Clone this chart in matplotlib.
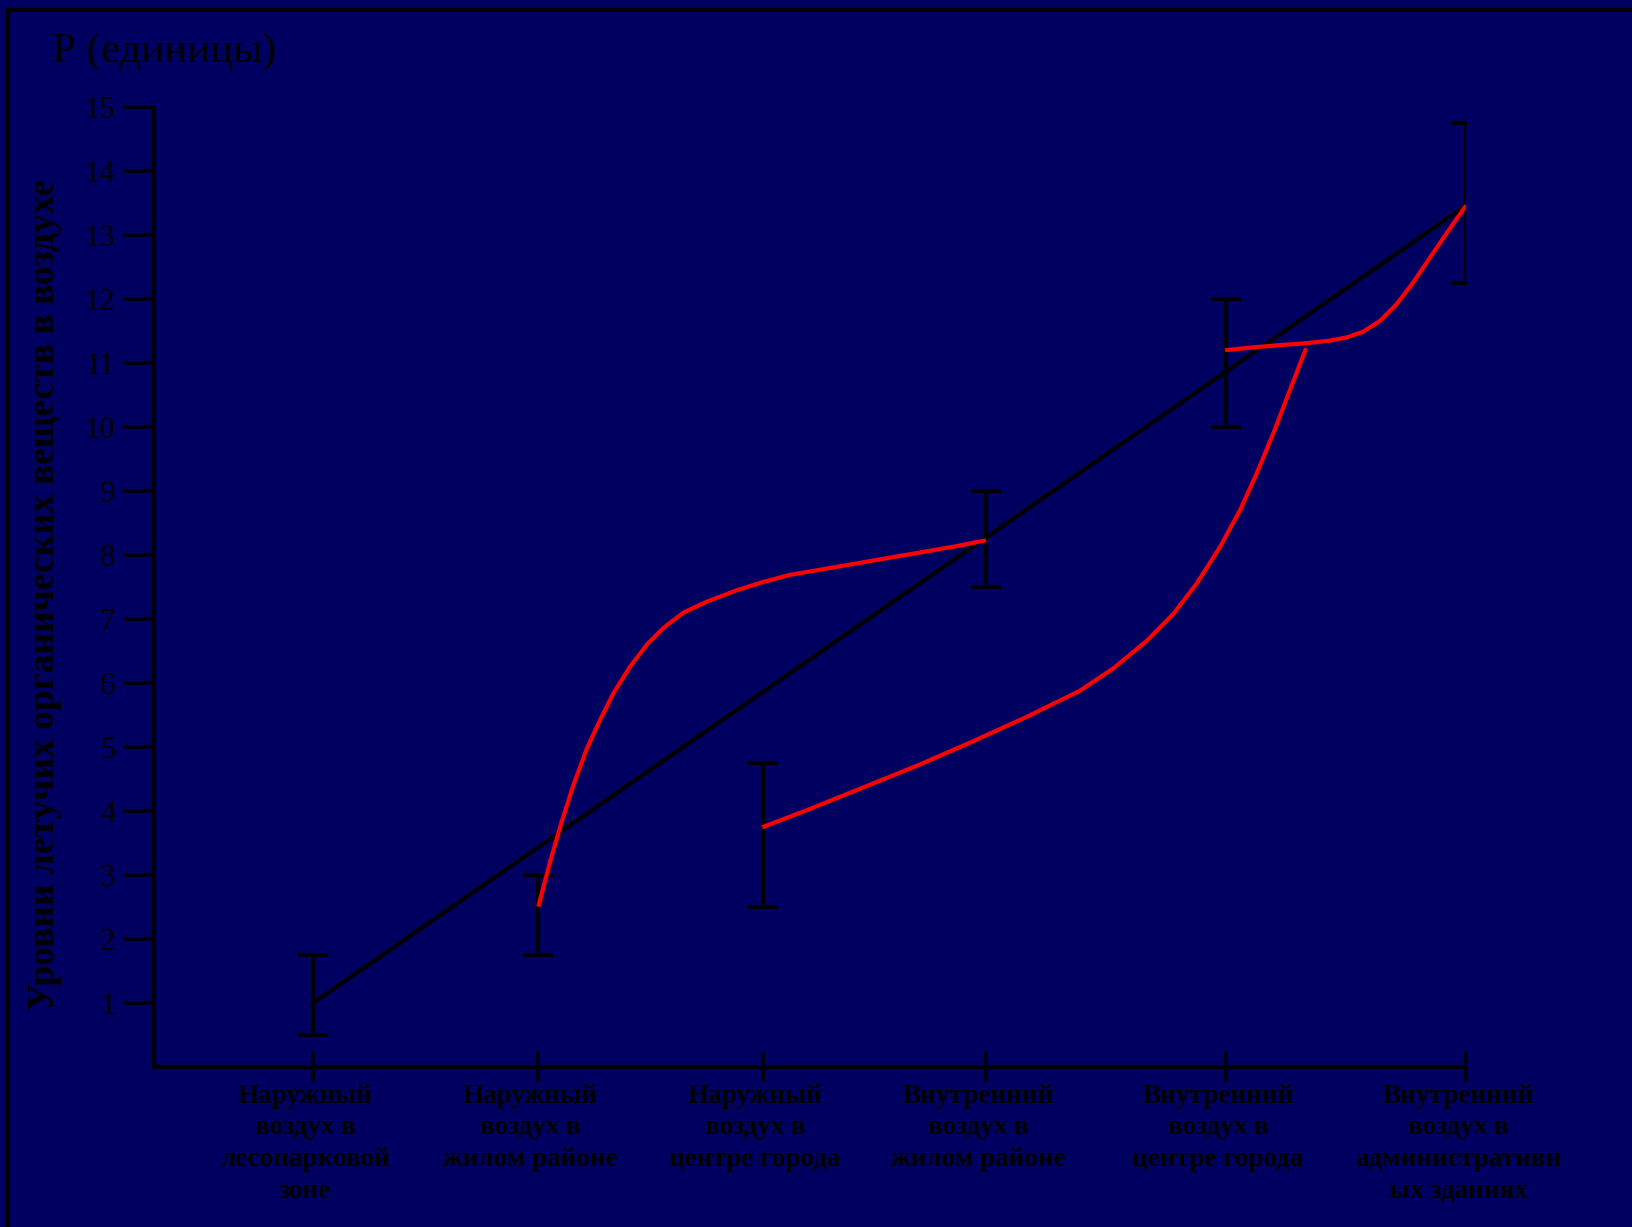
import matplotlib
matplotlib.use("Agg")
import matplotlib.pyplot as plt
from matplotlib.lines import Line2D
from matplotlib.transforms import ScaledTranslation

plt.rcParams['font.family'] = ['Liberation Serif', 'DejaVu Serif']

# categories along the x axis (uneven spacing, as in the picture)
categories = [
    "Наружный\nвоздух в\nлесопарковой\nзоне",
    "Наружный\nвоздух в\nжилом районе",
    "Наружный\nвоздух в\nцентре города",
    "Внутренний\nвоздух в\nжилом районе",
    "Внутренний\nвоздух в\nцентре города",
    "Внутренний\nвоздух в\nадминистративн\nых зданиях",
]
positions = [0.709, 1.712, 2.714, 3.709, 4.779, 5.849]

# error bar ranges
err_low = [0.5, 1.75, 2.5, 7.5, 10.0, 12.25]
err_high = [1.75, 3.0, 4.75, 9.0, 12.0, 14.75]

# black trend line
trend_x = [0.709, 5.849]
trend_y = [1.0, 13.46]

# red curves
curve_a_x = [1.713, 1.765, 1.818, 1.869, 1.929, 1.988, 2.048, 2.122, 2.197, 2.271,
             2.360, 2.464, 2.598, 2.716, 2.835, 2.969, 3.118, 3.266, 3.415, 3.564, 3.709]
curve_a_y = [2.505, 3.20, 3.84, 4.40, 4.97, 5.42, 5.84, 6.255, 6.60, 6.86,
             7.10, 7.27, 7.45, 7.58, 7.69, 7.77, 7.86, 7.95, 8.04, 8.13, 8.23]

curve_b_x = [2.711, 2.931, 3.170, 3.409, 3.647, 3.886, 4.128, 4.277, 4.426, 4.544,
             4.649, 4.753, 4.842, 4.916, 4.990, 5.064, 5.136]
curve_b_y = [3.745, 4.042, 4.380, 4.719, 5.083, 5.464, 5.88, 6.23, 6.66, 7.08,
             7.558, 8.130, 8.703, 9.276, 9.901, 10.578, 11.230]

curve_c_x = [4.775, 4.886, 5.020, 5.139, 5.243, 5.317, 5.391, 5.466, 5.540, 5.614,
             5.689, 5.763, 5.849]
curve_c_y = [11.20, 11.24, 11.28, 11.31, 11.35, 11.40, 11.49, 11.66, 11.92, 12.26,
             12.65, 13.03, 13.46]

bg = '#000060'
lw = 3.0

fig = plt.figure(figsize=(16.32, 12.27), dpi=100, facecolor=bg)
ax = fig.add_axes([0.0944, 0.1304, 0.8039, 0.7824])
ax.set_facecolor(bg)

# error bars
mids = [(lo + hi) / 2 for lo, hi in zip(err_low, err_high)]
half = [(hi - lo) / 2 for lo, hi in zip(err_low, err_high)]
ax.errorbar(positions, mids, yerr=half, fmt='none', ecolor='black',
            elinewidth=lw, capsize=11, capthick=lw, zorder=2)

ax.plot(trend_x, trend_y, color='black', lw=lw, zorder=3)
for cx, cy in [(curve_a_x, curve_a_y), (curve_b_x, curve_b_y), (curve_c_x, curve_c_y)]:
    ax.plot(cx, cy, color='red', lw=lw, zorder=4, solid_capstyle='butt',
            solid_joinstyle='round')

ax.set_xlim(0, 5.849)
ax.set_ylim(0, 15)
for s in ['top', 'right']:
    ax.spines[s].set_visible(False)
for s in ['left', 'bottom']:
    ax.spines[s].set_linewidth(lw)
    ax.spines[s].set_color('black')

ax.set_yticks(range(1, 16))
ax.set_yticklabels([str(i) for i in range(1, 16)], fontsize=22)
ax.tick_params(axis='y', direction='out', length=22, width=2.6, pad=6, colors='black')

ax.set_xticks(positions)
ax.set_xticklabels(categories, fontsize=19.5, fontweight='bold', linespacing=1.35)
ax.tick_params(axis='x', direction='inout', length=22, width=2.6, pad=1, colors='black')
shift = ScaledTranslation(-8 / 100, 0, fig.dpi_scale_trans)
for lab in ax.get_xticklabels():
    lab.set_transform(lab.get_transform() + shift)

fig.text(0.0319, 0.9495, "Р (единицы)", fontsize=31, color='black', va='baseline')
fig.text(0.0275, 0.5153, "Уровни летучих органических веществ в воздухе",
         rotation=90, fontsize=27, fontweight='bold', color='black',
         ha='center', va='center')

# outer frame (left and top edges)
fig.add_artist(Line2D([0.0046, 0.0046], [0.0, 0.9919], color='black', lw=3,
                      transform=fig.transFigure))
fig.add_artist(Line2D([0.0046, 1.0], [0.9919, 0.9919], color='black', lw=3,
                      transform=fig.transFigure))

fig.savefig('out.png', dpi=100, facecolor=bg)
